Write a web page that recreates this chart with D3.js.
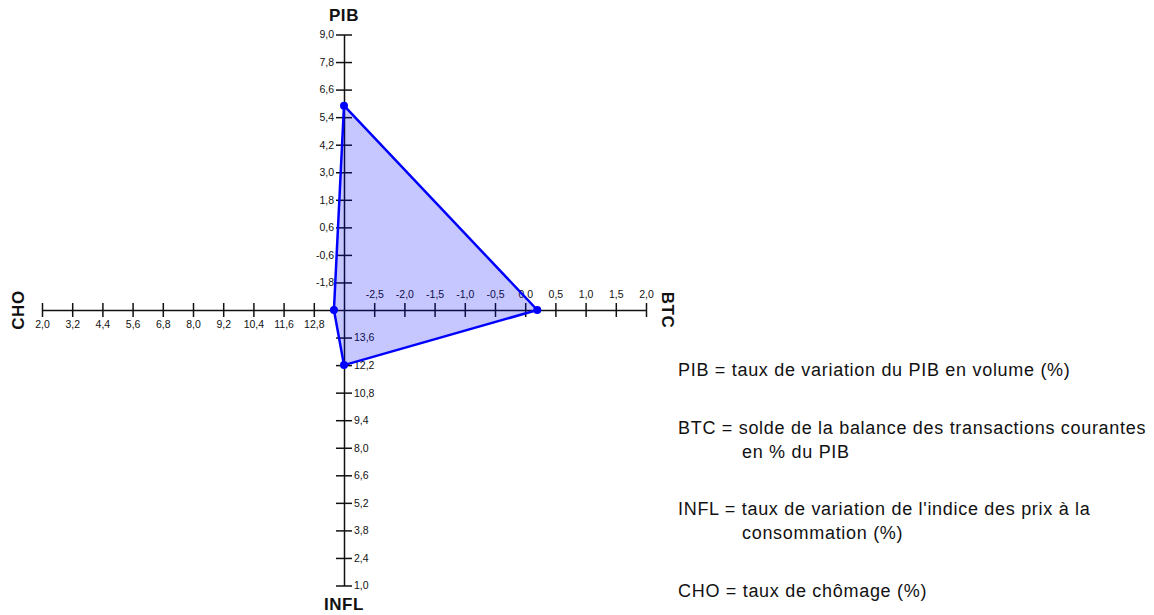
<!DOCTYPE html>
<html lang="fr">
<head>
<meta charset="utf-8">
<script src="https://cdn.jsdelivr.net/npm/d3@7"></script>
<style>
	body { margin: 0; background: #fff; }
	.axis path, .axis line { stroke: #111; stroke-width: 1.5; fill: none; }
	.axis text { font-family: "Liberation Sans", Arial, sans-serif; font-size: 10.5px; fill: #111; }
	.axis-title { font-family: "Liberation Sans", Arial, sans-serif; font-size: 17px; font-weight: bold; fill: #111; letter-spacing: 0.6px; }
	.legend text { font-family: "Liberation Sans", Arial, sans-serif; font-size: 18px; fill: #111; letter-spacing: 0.7px; }
</style>
</head>
<body>
<div id="chart"></div>
<script>

// Carré magique : PIB, BTC, INFL, CHO
const axisNames = ["PIB", "BTC", "INFL", "CHO"];
const axisValues = [5.9, 0.2, 12.2, 13.6];

// domains (center value -> end value) and tick labels
const pibDomain = [-3, 9];
const btcDomain = [-3, 2];
const inflDomain = [15, 1];
const choDomain = [14, 2];

const pibTicks = [-1.8, -0.6, 0.6, 1.8, 3.0, 4.2, 5.4, 6.6, 7.8, 9.0];
const btcTicks = [-2.5, -2.0, -1.5, -1.0, -0.5, 0.0, 0.5, 1.0, 1.5, 2.0];
const inflTicks = [13.6, 12.2, 10.8, 9.4, 8.0, 6.6, 5.2, 3.8, 2.4, 1.0];
const choTicks = [12.8, 11.6, 10.4, 9.2, 8.0, 6.8, 5.6, 4.4, 3.2, 2.0];

const legendLines = [
	["PIB = taux de variation du PIB en volume (%)"],
	["BTC = solde de la balance des transactions courantes", "en % du PIB"],
	["INFL = taux de variation de l'indice des prix à la", "consommation (%)"],
	["CHO = taux de chômage (%)"]
];

const width = 1154, height = 615;
const cx = 344, cy = 310;
const rx = 302, ry = 275.5;

const fr = d3.formatLocale({decimal: ",", thousands: ".", grouping: [3], currency: ["", " €"], minus: "-"});
const fmt = fr.format(".1f");

const svg = d3.select("#chart").append("svg")
	.attr("width", width)
	.attr("height", height);

// scales
const yPib = d3.scaleLinear().domain(pibDomain).range([cy, cy - ry]);
const xBtc = d3.scaleLinear().domain(btcDomain).range([cx, cx + rx]);
const yInfl = d3.scaleLinear().domain(inflDomain).range([cy, cy + ry]);
const xCho = d3.scaleLinear().domain(choDomain).range([cx, cx - rx]);

// axes
let gPib = svg.append("g").attr("class", "axis")
	.attr("transform", `translate(${cx},0)`)
	.call(d3.axisLeft(yPib).tickValues(pibTicks).tickFormat(fmt).tickSize(8).tickPadding(2).tickSizeOuter(0));
gPib.selectAll(".tick line").attr("x1", 8);

let gInfl = svg.append("g").attr("class", "axis")
	.attr("transform", `translate(${cx},0)`)
	.call(d3.axisRight(yInfl).tickValues(inflTicks).tickFormat(fmt).tickSize(8).tickPadding(2).tickSizeOuter(0));
gInfl.selectAll(".tick line").attr("x1", -8);

let gBtc = svg.append("g").attr("class", "axis")
	.attr("transform", `translate(0,${cy})`)
	.call(d3.axisTop(xBtc).tickValues(btcTicks).tickFormat(fmt).tickSize(7).tickPadding(5).tickSizeOuter(0));
gBtc.selectAll(".tick line").attr("y1", 7);

let gCho = svg.append("g").attr("class", "axis")
	.attr("transform", `translate(0,${cy})`)
	.call(d3.axisBottom(xCho).tickValues(choTicks).tickFormat(fmt).tickSize(7).tickPadding(4).tickSizeOuter(0));
gCho.selectAll(".tick line").attr("y1", -7);

svg.selectAll(".axis").attr("font-family", null).attr("font-size", null);
svg.selectAll(".axis text").attr("fill", null);
svg.selectAll(".axis line, .axis path").attr("stroke", null);

// axis titles
svg.append("text").attr("class", "axis-title")
	.attr("x", cx).attr("y", 21)
	.attr("text-anchor", "middle")
	.text(axisNames[0]);
svg.append("text").attr("class", "axis-title")
	.attr("x", cx).attr("y", 610)
	.attr("text-anchor", "middle")
	.text(axisNames[2]);
svg.append("text").attr("class", "axis-title")
	.attr("transform", `translate(${cx + rx + 16},${cy}) rotate(90)`)
	.attr("text-anchor", "middle")
	.text(axisNames[1]);
svg.append("text").attr("class", "axis-title")
	.attr("transform", `translate(${cx - rx - 18},${cy}) rotate(-90)`)
	.attr("text-anchor", "middle")
	.text(axisNames[3]);

// polygon
let pts = [
	[cx, yPib(axisValues[0])],
	[xBtc(axisValues[1]), cy],
	[cx, yInfl(axisValues[2])],
	[xCho(axisValues[3]), cy]
];

svg.append("polygon")
	.attr("points", pts.map(p => p.join(",")).join(" "))
	.attr("fill", "rgba(0,0,255,0.22)")
	.attr("stroke", "#0000ff")
	.attr("stroke-width", 2.5)
	.attr("stroke-linejoin", "round");

svg.selectAll(".dot")
	.data(pts)
	.enter().append("circle")
	.attr("class", "dot")
	.attr("cx", d => d[0])
	.attr("cy", d => d[1])
	.attr("r", 4)
	.attr("fill", "#0000ff");

// legend
let legend = svg.append("g").attr("class", "legend");
let yPos = 376;
legendLines.forEach((lines, i) => {
	if (i > 0) yPos += 57.5;
	lines.forEach((line, j) => {
		if (j > 0) yPos += 24;
		legend.append("text")
			.attr("x", j === 0 ? 678 : 742)
			.attr("y", yPos)
			.text(line);
	});
});

</script>
</body>
</html>
